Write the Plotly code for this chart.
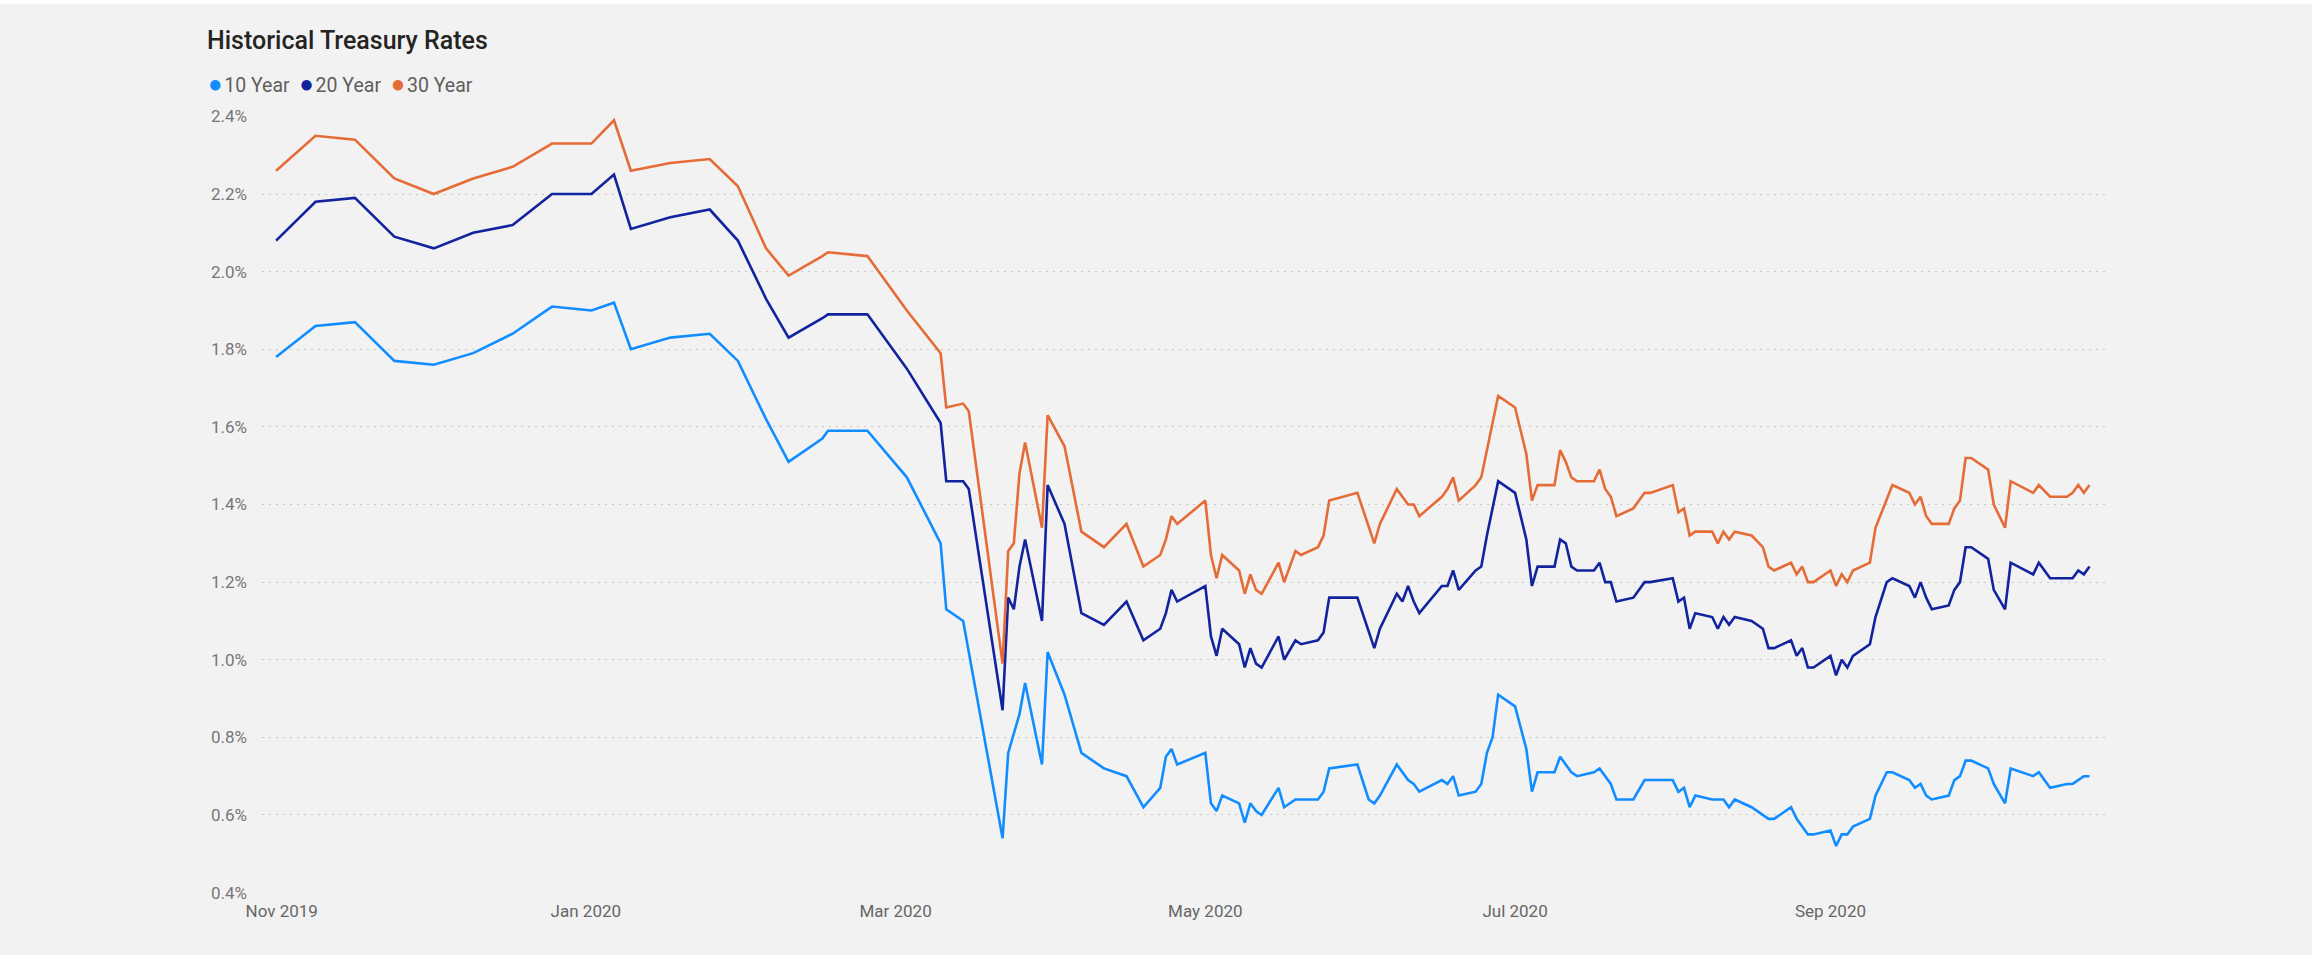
import plotly.graph_objects as go

# ---------------- data ----------------
dates = [
    "2019-11-01", "2019-11-08", "2019-11-15", "2019-11-22", "2019-11-29",
    "2019-12-06", "2019-12-13", "2019-12-20", "2019-12-27", "2019-12-31",
    "2020-01-03", "2020-01-10", "2020-01-17", "2020-01-22", "2020-01-27",
    "2020-01-31", "2020-02-06", "2020-02-07", "2020-02-14", "2020-02-21",
    "2020-02-27", "2020-02-28", "2020-03-02", "2020-03-03", "2020-03-09",
    "2020-03-10", "2020-03-11", "2020-03-12", "2020-03-13", "2020-03-16",
    "2020-03-17", "2020-03-20", "2020-03-23", "2020-03-27", "2020-03-31",
    "2020-04-03", "2020-04-06", "2020-04-07", "2020-04-08", "2020-04-09",
    "2020-04-14", "2020-04-15", "2020-04-16", "2020-04-17", "2020-04-20",
    "2020-04-21", "2020-04-22", "2020-04-23", "2020-04-24", "2020-04-27",
    "2020-04-28", "2020-04-30", "2020-05-01", "2020-05-04", "2020-05-05",
    "2020-05-06", "2020-05-11", "2020-05-13", "2020-05-14", "2020-05-15",
    "2020-05-18", "2020-05-19", "2020-05-20", "2020-05-21", "2020-05-22",
    "2020-05-26", "2020-05-27", "2020-05-28", "2020-05-29", "2020-06-01",
    "2020-06-02", "2020-06-03", "2020-06-04", "2020-06-05", "2020-06-08",
    "2020-06-10", "2020-06-11", "2020-06-12", "2020-06-15", "2020-06-16",
    "2020-06-17", "2020-06-18", "2020-06-19", "2020-06-22", "2020-06-23",
    "2020-06-24", "2020-06-25", "2020-06-26", "2020-06-29", "2020-07-01",
    "2020-07-02", "2020-07-06", "2020-07-07", "2020-07-08", "2020-07-09",
    "2020-07-10", "2020-07-13", "2020-07-14", "2020-07-15", "2020-07-16",
    "2020-07-17", "2020-07-20", "2020-07-22", "2020-07-23", "2020-07-24",
    "2020-07-27", "2020-07-28", "2020-07-29", "2020-07-30", "2020-07-31",
    "2020-08-03", "2020-08-04", "2020-08-05", "2020-08-06", "2020-08-07",
    "2020-08-10", "2020-08-11", "2020-08-13", "2020-08-14", "2020-08-17",
    "2020-08-18", "2020-08-19", "2020-08-20", "2020-08-21", "2020-08-24",
    "2020-08-25", "2020-08-26", "2020-08-27", "2020-08-28", "2020-08-31",
    "2020-09-01", "2020-09-03", "2020-09-04", "2020-09-08", "2020-09-09",
    "2020-09-11", "2020-09-14", "2020-09-15", "2020-09-16", "2020-09-17",
    "2020-09-18",
]

ten_year = [
    1.78, 1.86, 1.87, 1.77, 1.76,
    1.79, 1.84, 1.91, 1.90, 1.92,
    1.80, 1.83, 1.84, 1.77, 1.62,
    1.51, 1.57, 1.59, 1.59, 1.47,
    1.30, 1.13, 1.10, 1.02, 0.54,
    0.76, 0.81, 0.86, 0.94, 0.73,
    1.02, 0.91, 0.76, 0.72, 0.70,
    0.62, 0.67, 0.75, 0.77, 0.73,
    0.76, 0.63, 0.61, 0.65, 0.63,
    0.58, 0.63, 0.61, 0.60, 0.67,
    0.62, 0.64, 0.64, 0.64, 0.66,
    0.72, 0.73, 0.64, 0.63, 0.65,
    0.73, 0.71, 0.69, 0.68, 0.66,
    0.69, 0.68, 0.70, 0.65, 0.66,
    0.68, 0.76, 0.80, 0.91, 0.88,
    0.77, 0.66, 0.71, 0.71, 0.75,
    0.73, 0.71, 0.70, 0.71, 0.72,
    0.70, 0.68, 0.64, 0.64, 0.69,
    0.69, 0.69, 0.66, 0.67, 0.62,
    0.65, 0.64, 0.64, 0.64, 0.62,
    0.64, 0.62, 0.60, 0.59, 0.59,
    0.62, 0.59, 0.57, 0.55, 0.55,
    0.56, 0.52, 0.55, 0.55, 0.57,
    0.59, 0.65, 0.71, 0.71, 0.69,
    0.67, 0.68, 0.65, 0.64, 0.65,
    0.69, 0.70, 0.74, 0.74, 0.72,
    0.68, 0.63, 0.72, 0.70, 0.71,
    0.67, 0.68, 0.68, 0.69, 0.70,
    0.70,
]

twenty_year = [
    2.08, 2.18, 2.19, 2.09, 2.06,
    2.10, 2.12, 2.20, 2.20, 2.25,
    2.11, 2.14, 2.16, 2.08, 1.93,
    1.83, 1.88, 1.89, 1.89, 1.75,
    1.61, 1.46, 1.46, 1.44, 0.87,
    1.16, 1.13, 1.24, 1.31, 1.10,
    1.45, 1.35, 1.12, 1.09, 1.15,
    1.05, 1.08, 1.12, 1.18, 1.15,
    1.19, 1.06, 1.01, 1.08, 1.04,
    0.98, 1.03, 0.99, 0.98, 1.06,
    1.00, 1.05, 1.04, 1.05, 1.07,
    1.16, 1.16, 1.07, 1.03, 1.08,
    1.17, 1.15, 1.19, 1.15, 1.12,
    1.19, 1.19, 1.23, 1.18, 1.23,
    1.24, 1.32, 1.39, 1.46, 1.43,
    1.31, 1.19, 1.24, 1.24, 1.31,
    1.30, 1.24, 1.23, 1.23, 1.25,
    1.20, 1.20, 1.15, 1.16, 1.20,
    1.20, 1.21, 1.15, 1.16, 1.08,
    1.12, 1.11, 1.08, 1.11, 1.09,
    1.11, 1.10, 1.08, 1.03, 1.03,
    1.05, 1.01, 1.03, 0.98, 0.98,
    1.01, 0.96, 1.00, 0.98, 1.01,
    1.04, 1.11, 1.20, 1.21, 1.19,
    1.16, 1.20, 1.16, 1.13, 1.14,
    1.18, 1.20, 1.29, 1.29, 1.26,
    1.18, 1.13, 1.25, 1.22, 1.25,
    1.21, 1.21, 1.21, 1.23, 1.22,
    1.24,
]

thirty_year = [
    2.26, 2.35, 2.34, 2.24, 2.20,
    2.24, 2.27, 2.33, 2.33, 2.39,
    2.26, 2.28, 2.29, 2.22, 2.06,
    1.99, 2.04, 2.05, 2.04, 1.90,
    1.79, 1.65, 1.66, 1.64, 0.99,
    1.28, 1.30, 1.48, 1.56, 1.34,
    1.63, 1.55, 1.33, 1.29, 1.35,
    1.24, 1.27, 1.31, 1.37, 1.35,
    1.41, 1.27, 1.21, 1.27, 1.23,
    1.17, 1.22, 1.18, 1.17, 1.25,
    1.20, 1.28, 1.27, 1.29, 1.32,
    1.41, 1.43, 1.34, 1.30, 1.35,
    1.44, 1.42, 1.40, 1.40, 1.37,
    1.42, 1.44, 1.47, 1.41, 1.45,
    1.47, 1.54, 1.61, 1.68, 1.65,
    1.53, 1.41, 1.45, 1.45, 1.54,
    1.51, 1.47, 1.46, 1.46, 1.49,
    1.44, 1.42, 1.37, 1.39, 1.43,
    1.43, 1.45, 1.38, 1.39, 1.32,
    1.33, 1.33, 1.30, 1.33, 1.31,
    1.33, 1.32, 1.29, 1.24, 1.23,
    1.25, 1.22, 1.24, 1.20, 1.20,
    1.23, 1.19, 1.22, 1.20, 1.23,
    1.25, 1.34, 1.41, 1.45, 1.43,
    1.40, 1.42, 1.37, 1.35, 1.35,
    1.39, 1.41, 1.52, 1.52, 1.49,
    1.40, 1.34, 1.46, 1.43, 1.45,
    1.42, 1.42, 1.43, 1.45, 1.43,
    1.45,
]

series_names = ["10 Year", "20 Year", "30 Year"]
series_colors = ["#118DFF", "#12239E", "#E66C37"]

# tick positions as they sit in the reference (evenly spaced, ~55 days apart)
x_tick_dates = ["2019-11-02", "2019-12-26", "2020-02-19", "2020-04-14", "2020-06-08", "2020-08-03"]
x_tick_labels = ["Nov 2019", "Jan 2020", "Mar 2020", "May 2020", "Jul 2020", "Sep 2020"]
y_tick_values = [0.4, 0.6, 0.8, 1.0, 1.2, 1.4, 1.6, 1.8, 2.0, 2.2, 2.4]
y_tick_labels = [f"{v:.1f}%" for v in y_tick_values]

# ---------------- figure ----------------
W, H = 2323, 958
ML, MR, MT, MB = 262, 218, 116, 65
PW, PH = W - ML - MR, H - MT - MB
BG = "#F2F2F2"
FONT = "Roboto, 'Open Sans', sans-serif"

fig = go.Figure()
for name, values, color in zip(series_names, [ten_year, twenty_year, thirty_year], series_colors):
    fig.add_trace(go.Scatter(
        x=dates, y=values, name=name, mode="lines",
        line=dict(color=color, width=2.6),
        showlegend=False,
        hovertemplate="%{x|%b %d, %Y}<br>" + name + ": %{y:.2f}%<extra></extra>",
    ))

gap = "<span style='font-size:7px'>&nbsp;</span>"
legend_html = "&nbsp;&nbsp;".join(
    f"<span style='color:{c};font-size:24px'>●</span>{gap}<span style='color:#605E5C'>{n}</span>"
    for n, c in zip(series_names, series_colors)
)

# grey visual panel (white frame strip at top/right/bottom like the report canvas)
panel = dict(
    type="rect", xref="paper", yref="paper", layer="below",
    x0=(0 - ML) / PW, x1=(2312 - ML) / PW,
    y0=(H - MB - 955) / PH, y1=(H - MB - 4) / PH,
    fillcolor=BG, line=dict(width=0),
)

fig.update_layout(
    width=W, height=H,
    margin=dict(l=ML, r=MR, t=MT, b=MB),
    paper_bgcolor="#FFFFFF", plot_bgcolor=BG,
    font=dict(family=FONT, color="#605E5C"),
    shapes=[panel],
    title=dict(
        text="Historical Treasury Rates",
        font=dict(family=FONT, size=25, color="#252423", weight=500),
        x=207 / W, xanchor="left", xref="container",
        y=1 - 40 / H, yanchor="middle", yref="container",
    ),
    annotations=[dict(
        text=legend_html, xref="paper", yref="paper",
        x=(206 - ML) / PW, y=(H - MB - 84) / PH,
        xanchor="left", yanchor="middle",
        showarrow=False, font=dict(family=FONT, size=19.5, color="#605E5C"),
    )],
    xaxis=dict(
        type="date",
        range=["2019-10-29 12:00", "2020-09-20 18:00"],
        tickvals=x_tick_dates, ticktext=x_tick_labels,
        showgrid=False, zeroline=False, showline=False,
        ticks="", tickfont=dict(family=FONT, size=17, color="#666666"),
        ticklabelstandoff=6,
    ),
    yaxis=dict(
        range=[0.399, 2.401],
        tickvals=y_tick_values, ticktext=y_tick_labels,
        showgrid=True, gridcolor="#C8C8C8", gridwidth=1, griddash="2px,5px",
        zeroline=False, showline=False, ticks="",
        tickfont=dict(family=FONT, size=17, color="#777777"),
        ticklabelstandoff=14,
    ),
    hovermode="x unified",
)

fig.write_html("out.html")
